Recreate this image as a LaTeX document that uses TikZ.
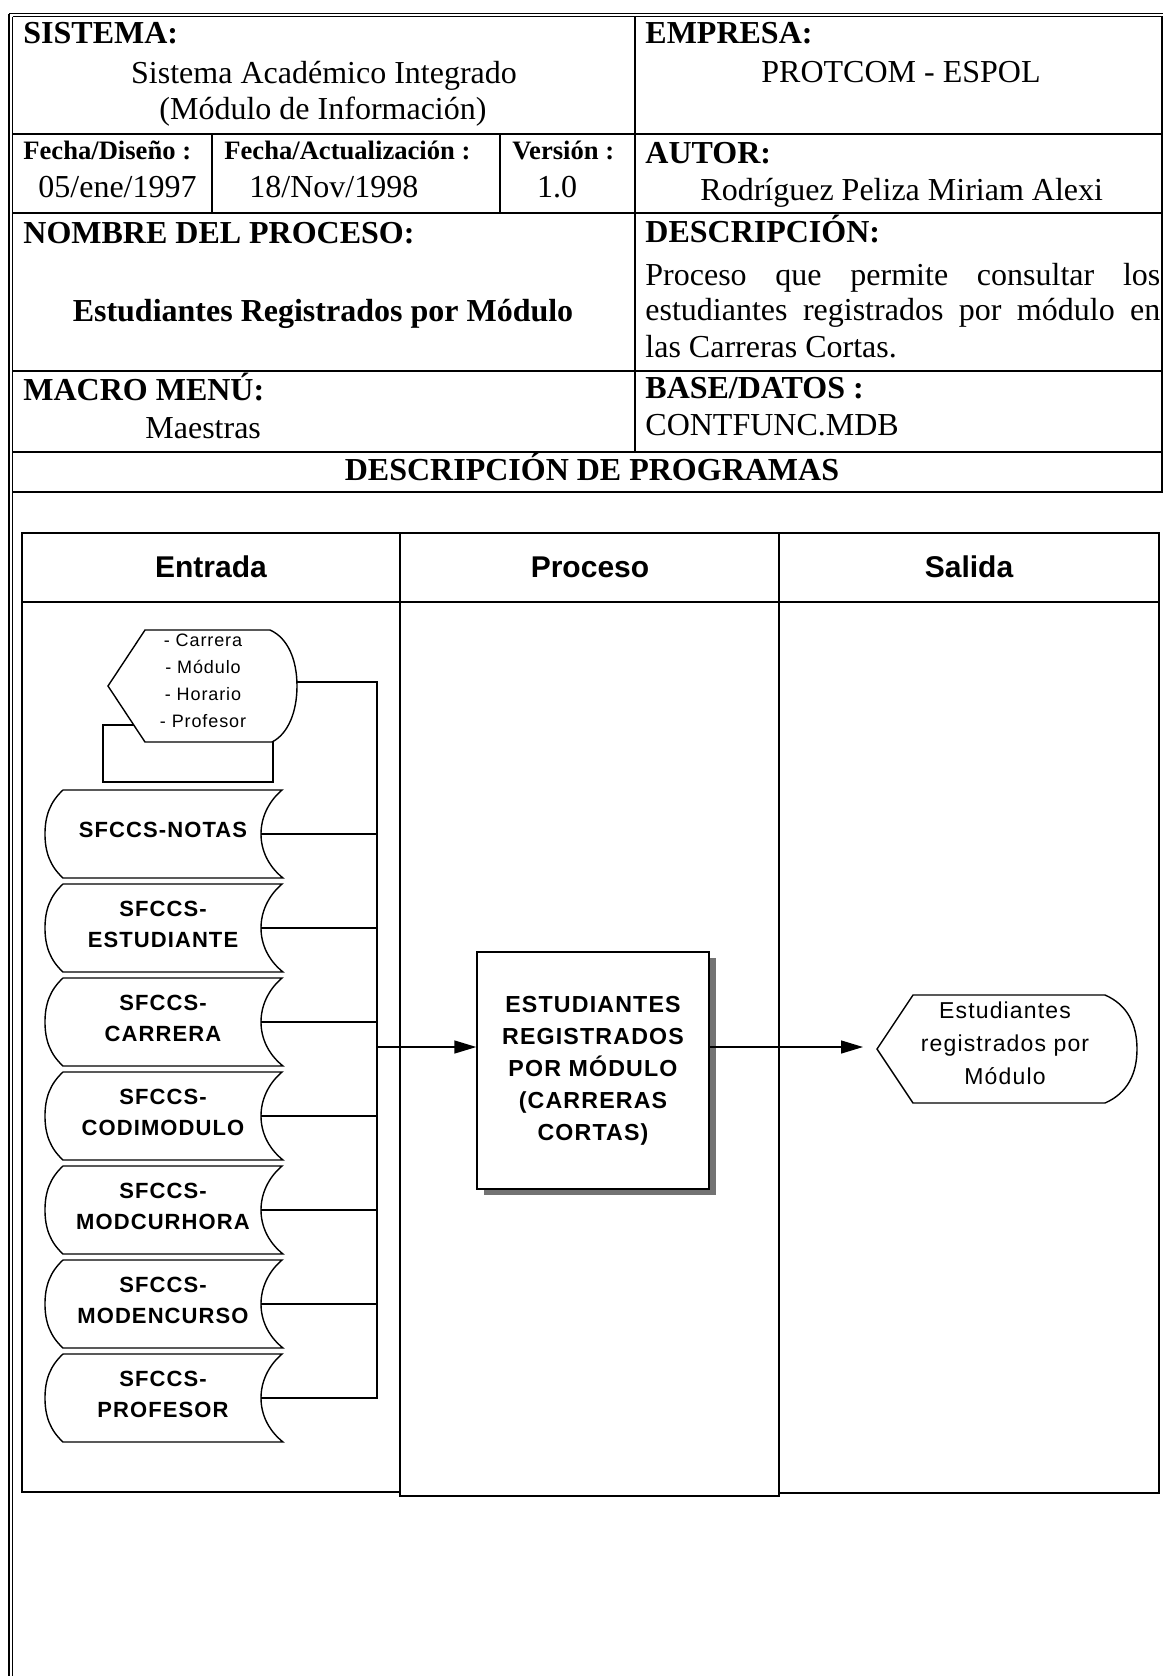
\documentclass[tikz,border=0pt]{standalone}
\usepackage{fontspec}
\setmainfont{Liberation Serif}
\newfontfamily\arialf{Liberation Sans}
\newfontfamily\arialsp[LetterSpace=5]{Liberation Sans}
\usetikzlibrary{arrows.meta,shadows}
\newcommand\sdshape[3]{%
  \pgfmathsetmacro\sdt{#2}\pgfmathsetmacro\sdb{#2+88}\pgfmathsetmacro\sdm{#2+44}%
  \draw[fline,fill=white] (282,\sdt) -- (63,\sdt) .. controls (50,\sdt+12) and (45,\sdt+26) .. (45,\sdm)
     .. controls (45,\sdb-26) and (50,\sdb-12) .. (63,\sdb) -- (283,\sdb)
     .. controls (268,\sdb-12) and (261,\sdb-28) .. (261,\sdm)
     .. controls (261,\sdt+28) and (268,\sdt+12) .. (282,\sdt) -- cycle;
  \node[sdlabel] (#1) at (163,\sdm-4) {#3};
  \coordinate (#1-e) at (261,\sdm);
}
\begin{document}
\begin{tikzpicture}[x=0.5pt,y=-0.5pt,
  tline/.style={line width=1pt},
  fline/.style={line width=0.7pt},
  lbl/.style={anchor=base west,inner sep=0,font=\fontsize{16}{19}\selectfont\bfseries},
  smlbl/.style={anchor=base west,inner sep=0,font=\fontsize{13.3}{16}\selectfont\bfseries},
  val/.style={anchor=base west,inner sep=0,font=\fontsize{16}{19}\selectfont},
  cval/.style={anchor=base,inner sep=0,font=\fontsize{16}{19}\selectfont},
  hdr/.style={inner sep=0,font=\arialf\bfseries\fontsize{15}{18}\selectfont},
  sdlabel/.style={inner sep=0,align=center,font=\arialsp\bfseries\fontsize{11}{15.5}\selectfont},
  procbox/.style={draw,fline,fill=white,minimum width=116pt,minimum height=118.5pt,inner sep=0,align=center,
     font=\arialsp\bfseries\fontsize{11.6}{16}\selectfont,
     drop shadow={shadow xshift=3.5pt,shadow yshift=-3.2pt,fill=black!55,opacity=1}},
  arr/.style={fline,-{Triangle[length=11pt,width=6.5pt]}}
]
\useasboundingbox (0,0) rectangle (1163,1676);
\fill[white] (0,0) rectangle (1163,1676);

% outer frame (double lines)
\draw[line width=0.9pt] (9,13.5) -- (1163,13.5);
\draw[line width=0.9pt] (12.5,16.5) -- (1163,16.5);
\draw[line width=0.9pt] (9,13.5) -- (9,1676);
\draw[line width=0.9pt] (12.5,16.5) -- (12.5,1676);
\draw[tline] (1161.5,16.5) -- (1161.5,492);

% header table lines
\draw[tline] (12.5,134) -- (1163,134);
\draw[tline] (12.5,213) -- (1163,213);
\draw[tline] (12.5,371) -- (1163,371);
\draw[tline] (12.5,452) -- (1163,452);
\draw[tline] (12.5,492) -- (1163,492);
\draw[tline] (635,16.5) -- (635,452);
\draw[tline] (212,134) -- (212,213);
\draw[tline] (500,134) -- (500,213);

% header table texts
\node[lbl] (sistema) at (23,43) {SISTEMA:};
\node[cval] (sistema1) at (324,83) {Sistema Académico Integrado};
\node[cval] (sistema2) at (323,119) {(Módulo de Información)};
\node[lbl] (empresa) at (645,43) {EMPRESA:};
\node[cval] (empresa1) at (901,82) {PROTCOM - ESPOL};

\node[smlbl] (fdis) at (23,159) {Fecha/Diseño :};
\node[val] (fdisv) at (38,197) {05/ene/1997};
\node[smlbl] (fact) at (224,159) {Fecha/Actualización :};
\node[val] (factv) at (249,197) {18/Nov/1998};
\node[smlbl] (vers) at (512,159) {Versión :};
\node[cval] (versv) at (557,197) {1.0};
\node[lbl] (autor) at (645,163) {AUTOR:};
\node[val] (autorv) at (700,200) {Rodríguez Peliza Miriam Alexi};

\node[lbl] (nombre) at (23,243) {NOMBRE DEL PROCESO:};
\node[anchor=base,inner sep=0,font=\fontsize{16}{19}\selectfont\bfseries] (nombrev) at (323,321) {Estudiantes Registrados por Módulo};
\node[lbl] (descr) at (645,242) {DESCRIPCIÓN:};
\node[val] (desc1) at (645,285) {\makebox[257.5pt][s]{Proceso que permite consultar los}};
\node[val] (desc2) at (645,320) {\makebox[257.5pt][s]{estudiantes registrados por módulo en}};
\node[val] (desc3) at (645,357) {las Carreras Cortas.};

\node[lbl] (macro) at (23,400) {MACRO MENÚ:};
\node[val] (macrov) at (145,438) {Maestras};
\node[lbl] (base) at (645,398) {BASE/DATOS :};
\node[val] (basev) at (645,435) {CONTFUNC.MDB};

\node[anchor=base,inner sep=0,font=\fontsize{16}{19}\selectfont\bfseries] (descprog) at (592,480) {DESCRIPCIÓN DE PROGRAMAS};

% swimlane table
\draw[fline] (22,533) rectangle (400,1492);
\draw[fline] (400,533) rectangle (779,1496);
\draw[fline] (779,533) rectangle (1159,1493);
\draw[fline] (22,602) -- (1159,602);
\node[hdr] (hentrada) at (211,567) {Entrada};
\node[hdr] (hproceso) at (590,567) {Proceso};
\node[hdr] (hsalida) at (969,567) {Salida};

% input display
\draw[fline,fill=white] (103,725) rectangle (273,782);
\draw[fline,fill=white] (145,630) -- (270,630) .. controls (288,638) and (297,660) .. (297,686)
   .. controls (297,712) and (288,734) .. (272,742) -- (145,742) -- (108,686) -- cycle;
\node[inner sep=0,align=center,font=\arialsp\fontsize{9}{13.5}\selectfont] (inlist) at (203,681)
   {- Carrera\\- Módulo\\- Horario\\- Profesor};
\coordinate (indisp-e) at (297,682);

% stored data
\sdshape{notas}{790}{SFCCS-NOTAS}
\sdshape{estud}{884}{SFCCS-\\ESTUDIANTE}
\sdshape{carrera}{978}{SFCCS-\\CARRERA}
\sdshape{codmod}{1072}{SFCCS-\\CODIMODULO}
\sdshape{modcur}{1166}{SFCCS-\\MODCURHORA}
\sdshape{modenc}{1260}{SFCCS-\\MODENCURSO}
\sdshape{prof}{1354}{SFCCS-\\PROFESOR}

% bus
\coordinate (bustop) at (377,682);
\coordinate (busjoin) at (377,1047);
\draw[fline] (indisp-e) -- (bustop) -- (bustop |- prof-e) -- (prof-e);
\foreach \s in {notas,estud,carrera,codmod,modcur,modenc}
  \draw[fline] (\s-e) -- (\s-e -| bustop);

% process
\node[procbox] (proc) at (593,1070.5) {ESTUDIANTES\\REGISTRADOS\\POR MÓDULO\\(CARRERAS\\CORTAS)};
\draw[arr] (busjoin) -- (busjoin -| proc.west);

% output display
\draw[fline,fill=white] (913,995) -- (1105,995) .. controls (1128,1005) and (1137,1025) .. (1137,1049)
   .. controls (1137,1073) and (1128,1093) .. (1105,1103) -- (913,1103) -- (877,1049) -- cycle;
\coordinate (outdisp-w) at (877,1047);
\node[inner sep=0,align=center,font=\arialsp\fontsize{11.5}{16.5}\selectfont] (outtext) at (1005,1043)
   {Estudiantes\\registrados por\\Módulo};
\draw[arr,shorten >=7pt] (busjoin -| proc.east) -- (outdisp-w);
\end{tikzpicture}
\end{document}
